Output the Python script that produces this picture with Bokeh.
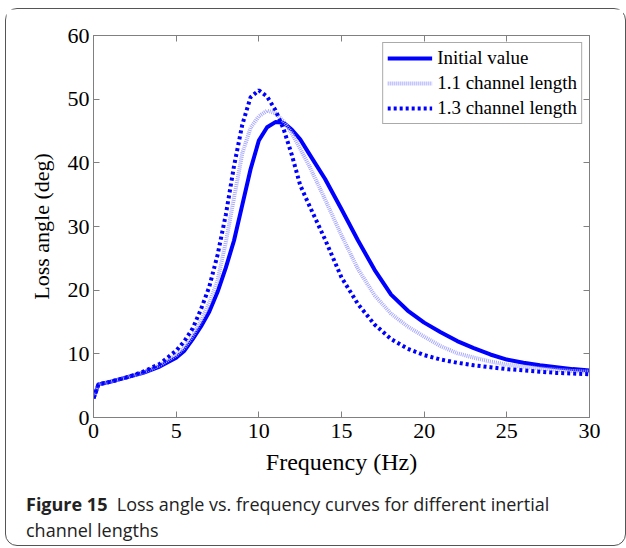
from bokeh.plotting import figure
from bokeh.models import Range1d, LinearAxis, Legend, LegendItem, FixedTicker, Div
from bokeh.layouts import column
from bokeh.embed import file_html
from bokeh.resources import INLINE

freq = [0, 0.3, 1, 2, 3, 4, 5, 5.5, 6, 6.5, 7, 7.5, 8, 8.5, 9, 9.5, 10, 10.5, 11, 11.5,
        12, 12.5, 13, 14, 15, 16, 17, 18, 19, 20, 21, 22, 23, 24, 25, 26, 27, 28, 29, 30]

initial = [3.0, 5.2, 5.6, 6.3, 7.0, 8.0, 9.4, 10.5, 12.3, 14.3, 16.6, 19.7, 23.5, 27.8, 33.4, 39.0,
           43.5, 45.6, 46.4, 46.3, 45.2, 43.7, 41.6, 37.5, 32.7, 27.8, 23.2, 19.3, 16.8, 14.9,
           13.4, 12.0, 10.9, 9.9, 9.1, 8.6, 8.2, 7.9, 7.6, 7.4]

len_1_1 = [3.0, 5.2, 5.6, 6.3, 7.1, 8.2, 9.8, 11.0, 12.8, 15.2, 18.0, 21.5, 27.5, 34.5, 41.5, 45.5,
           47.3, 48.2, 47.8, 46.5, 44.6, 42.2, 39.8, 34.3, 28.6, 23.3, 19.2, 16.3, 14.3, 12.7,
           11.2, 10.1, 9.4, 8.8, 8.3, 8.0, 7.7, 7.5, 7.3, 7.2]

len_1_3 = [3.0, 5.2, 5.6, 6.3, 7.2, 8.4, 10.5, 12.0, 14.0, 17.0, 20.5, 25.5, 31.8, 39.5, 46.0, 50.3,
           51.4, 50.4, 48.3, 45.3, 41.2, 36.5, 33.6, 28.0, 22.0, 17.8, 14.6, 12.3, 10.8, 9.8,
           9.1, 8.6, 8.2, 7.9, 7.6, 7.4, 7.2, 7.0, 6.9, 6.8]

series_labels = ["Initial value", "1.1 channel length", "1.3 channel length"]
x_ticks = [0, 5, 10, 15, 20, 25, 30]
y_ticks = [0, 10, 20, 30, 40, 50, 60]
caption_bold = "Figure 15"
caption_text = ["Loss angle vs. frequency curves for different inertial", "channel lengths"]

SERIF = "Liberation Serif"
AXIS_COL = "#808080"

p = figure(width=617, height=468, output_backend="svg", toolbar_location=None,
           x_range=Range1d(0, 30), y_range=Range1d(0, 60),
           min_border_left=87, min_border_right=34, min_border_top=26, min_border_bottom=58,
           x_axis_label="Frequency (Hz)", y_axis_label="Loss angle (deg)")
p.grid.visible = False
p.outline_line_color = AXIS_COL
p.outline_line_width = 1

for ax in (p.xaxis[0], p.yaxis[0]):
    ax.axis_line_color = AXIS_COL
    ax.major_tick_line_color = AXIS_COL
    ax.major_tick_in = 6
    ax.major_tick_out = 0
    ax.minor_tick_line_color = None
    ax.major_label_text_font = SERIF
    ax.major_label_text_font_size = "22px"
    ax.major_label_text_color = "black"
    ax.axis_label_text_font = SERIF
    ax.axis_label_text_font_style = "normal"
    ax.axis_label_text_color = "black"

p.xaxis[0].axis_label_text_font_size = "24px"
p.yaxis[0].axis_label_text_font_size = "22px"
p.xaxis[0].ticker = FixedTicker(ticks=x_ticks)
p.yaxis[0].ticker = FixedTicker(ticks=y_ticks)
p.xaxis[0].major_label_standoff = 6
p.yaxis[0].major_label_standoff = 4
p.xaxis[0].axis_label_standoff = 8
p.yaxis[0].axis_label_standoff = 11

top_ax = LinearAxis(ticker=FixedTicker(ticks=x_ticks), major_label_text_font_size="0px",
                    axis_line_color=AXIS_COL, major_tick_line_color=AXIS_COL,
                    major_tick_in=6, major_tick_out=0, minor_tick_line_color=None)
right_ax = LinearAxis(ticker=FixedTicker(ticks=y_ticks), major_label_text_font_size="0px",
                      axis_line_color=AXIS_COL, major_tick_line_color=AXIS_COL,
                      major_tick_in=6, major_tick_out=0, minor_tick_line_color=None)
p.add_layout(top_ax, "above")
p.add_layout(right_ax, "right")

r0 = p.line(freq, initial, line_color="#0000ff", line_width=4, line_join="round")
r1 = p.line(freq, len_1_1, line_color="#a8a8ff", line_width=4, line_dash="1 1")
r2 = p.line(freq, len_1_3, line_color="#0000ff", line_width=4, line_dash="3 3")

legend = Legend(items=[LegendItem(label=series_labels[0], renderers=[r0]),
                       LegendItem(label=series_labels[1], renderers=[r1]),
                       LegendItem(label=series_labels[2], renderers=[r2])],
                location="top_right")
legend.label_text_font = SERIF
legend.label_text_font_size = "19px"
legend.label_text_color = "black"
legend.glyph_width = 45
legend.glyph_height = 18
legend.label_height = 18
legend.spacing = 3
legend.padding = 4
legend.margin = 7
legend.border_line_color = "#555555"
legend.border_line_width = 1
legend.label_standoff = 5
p.add_layout(legend)

caption = Div(text="<b>%s</b>&nbsp;&nbsp;%s<br>%s" % (caption_bold, caption_text[0], caption_text[1]),
              width=617, height=66,
              styles={"font-family": "'Open Sans', sans-serif", "font-size": "18px",
                      "line-height": "26px", "color": "#222222",
                      "padding-left": "15px", "padding-top": "9px",
                      "box-sizing": "border-box", "white-space": "nowrap"})

layout = column(p, caption, spacing=0, width=621, height=538,
                styles={"border": "1.3px solid #555555", "border-radius": "12px",
                        "margin-left": "5px", "margin-top": "8px"})

open("out.html", "w").write(file_html(layout, INLINE))
